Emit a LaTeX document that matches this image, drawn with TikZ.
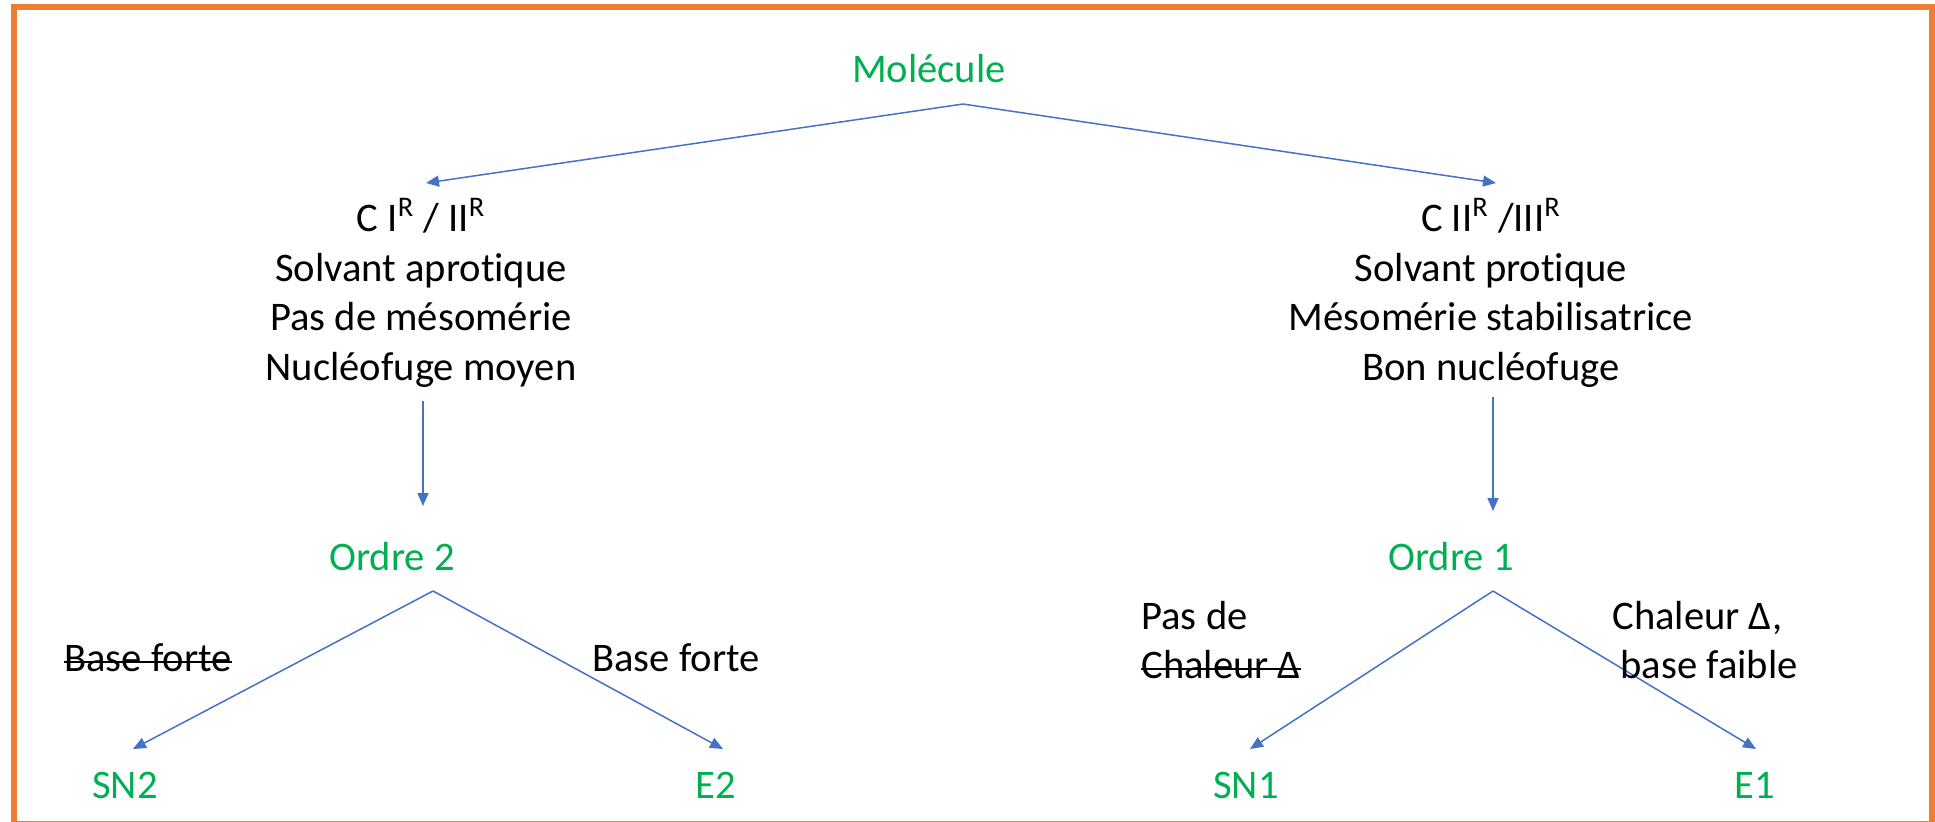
\documentclass[tikz,border=0pt]{standalone}
\usepackage{fontspec}
\setmainfont[Ligatures=NoCommon]{Carlito}
\newsavebox\strkbox
\newcommand\strk[1]{\sbox\strkbox{#1}\rlap{\usebox\strkbox}\rule[0.22em]{\wd\strkbox}{1pt}}
\usetikzlibrary{arrows.meta}
\definecolor{frameorange}{HTML}{ED7D31}
\definecolor{leafgreen}{HTML}{00B050}
\definecolor{linkblue}{HTML}{4472C4}
\begin{document}
\begin{tikzpicture}[x=0.5pt,y=-0.5pt,
  every node/.style={font=\fontsize{20.3}{24.75}\selectfont, inner sep=0pt},
  grn/.style={text=leafgreen},
  link/.style={draw=linkblue, line width=0.75pt, -{Triangle[length=6.5pt,width=5.5pt]}}]
\useasboundingbox (0,0) rectangle (1935,821);
\begin{scope}
  \clip (0,0) rectangle (1935,821);
  \draw[frameorange, line width=3pt] (14,7) rectangle (1932,824);
\end{scope}
% top level
\node[grn] (mol) at (929,69) {Molécule};
\coordinate (topapex) at (963,104);
\coordinate (lin) at (426,183);
\coordinate (rin) at (1496,183);
\node[align=center] (leftblk) at (421,293) {C I\textsuperscript{R} / II\textsuperscript{R}\\Solvant aprotique\\Pas de mésomérie\\Nucléofuge moyen};
\node[align=center] (rightblk) at (1491,293) {C II\textsuperscript{R} /III\textsuperscript{R}\\Solvant protique\\Mésomérie stabilisatrice\\Bon nucléofuge};
\draw[link] (topapex) -- (lin);
\draw[link] (topapex) -- (rin);
% vertical arrows
\coordinate (lv1) at (423,401);
\coordinate (lv2) at (423,506);
\coordinate (rv1) at (1493,397);
\coordinate (rv2) at (1493,511);
\draw[link] (lv1) -- (lv2);
\draw[link] (rv1) -- (rv2);
% order nodes
\node[grn] (o2) at (392,557) {Ordre 2};
\node[grn] (o1) at (1451,557) {Ordre 1};
\coordinate (a2) at (433,591);
\coordinate (a1) at (1493,591);
\coordinate (sn2t) at (133,749);
\coordinate (e2t) at (723,749);
\coordinate (sn1t) at (1250,749);
\coordinate (e1t) at (1756,749);
\draw[link] (a2) -- (sn2t);
\draw[link] (a2) -- (e2t);
\draw[link] (a1) -- (sn1t);
\draw[link] (a1) -- (e1t);
% leaves
\node[grn] (sn2) at (125,785) {SN2};
\node[grn] (e2) at (716,785) {E2};
\node[grn] (sn1) at (1246,785) {SN1};
\node[grn] (e1) at (1755,785) {E1};
% condition labels
\node (bf1) at (148,658) {\strk{Base forte}};
\node (bf2) at (676,658) {Base forte};
\node[align=left, anchor=west] (pasde) at (1141,640) {Pas de\\\strk{Chaleur Δ}};
\node[align=left, anchor=west] (chal) at (1612,640) {Chaleur Δ,\\\hspace*{4pt}base faible};
\end{tikzpicture}
\end{document}
